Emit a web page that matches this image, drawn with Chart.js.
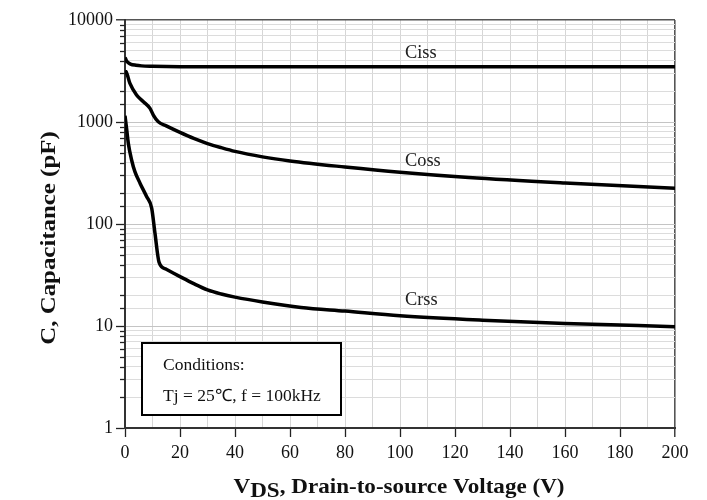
<!DOCTYPE html>
<html>
<head>
<meta charset="utf-8">
<script src="https://cdn.jsdelivr.net/npm/chart.js@4"></script>
<style>
  html, body { margin: 0; padding: 0; background: #fff; }
  canvas { display: block; }
</style>
</head>
<body>
<canvas id="capChart" width="707" height="500"></canvas>
<script>
// Ciss / Coss / Crss vs drain-source voltage (pF, log axis)
var cissV = [0, 0.5, 1, 2, 4, 6, 10, 15, 20, 50, 100, 150, 200];
var cissC = [4300, 4000, 3850, 3700, 3600, 3550, 3520, 3500, 3490, 3480, 3480, 3480, 3480];

var cossV = [0, 0.4, 1.8, 4.2, 6.7, 9.1, 10.3, 12.1, 15, 20, 25, 30, 35, 40, 50, 60, 80, 100, 125, 160, 200];
var cossC = [3150, 3110, 2390, 1840, 1580, 1360, 1170, 1005, 915, 790, 690, 615, 560, 515, 455, 415, 362, 321, 285, 252, 224];

var crssV = [0, 0.5, 1.2, 2.4, 3.6, 5.5, 7.9, 9.7, 10.9, 12.4, 15, 20, 25, 30, 35, 40, 50, 64, 80, 100, 130, 160, 200];
var crssC = [1150, 900, 620, 424, 326, 250, 185, 143, 81, 42, 36, 30.5, 26, 22.6, 20.6, 19.2, 17.2, 15.2, 14, 12.6, 11.4, 10.6, 9.85];

var seriesNames = ['Ciss', 'Coss', 'Crss'];
// where each curve name sits (V, pF at text baseline)
var nameAt = [[101.8, 4240], [101.8, 371], [101.8, 16.1]];

var yTitle = 'C, Capacitance (pF)';
var xTitleMain = 'V';
var xTitleSub = 'DS';
var xTitleRest = ', Drain-to-source Voltage (V)';
var noteLines = ['Conditions:', 'Tj = 25\u2103, f = 100kHz'];

var SERIF = "'Liberation Serif', 'Times New Roman', serif";

function toPoints(xs, ys){
  var pts = [];
  for (var i = 0; i < xs.length; i++) {
    pts.push({x: xs[i], y: ys[i]});
  }
  return pts;
}

function isDecade(v){
  var l = Math.log10(v);
  return Math.abs(l - Math.round(l)) < 1e-9;
}

function curve(name, xs, ys){
  return {
    label: name,
    data: toPoints(xs, ys),
    borderColor: '#000',
    borderWidth: 3.5,
    pointRadius: 0,
    fill: false,
    cubicInterpolationMode: 'monotone'
  };
}

// stretched text helper, the printed sheet uses slightly wide glyphs
function wideText(ctx, txt, x, y, sx){
  ctx.save();
  ctx.translate(x, y);
  ctx.scale(sx, 1);
  ctx.fillText(txt, 0, 0);
  ctx.restore();
}

var decorations = {
  id: 'decorations',
  afterDraw: function(chart){
    var ctx = chart.ctx;
    var area = chart.chartArea;
    var xs = chart.scales.x;
    var ys = chart.scales.y;

    // short minor ticks on the log axis
    ctx.save();
    ctx.strokeStyle = '#222';
    ctx.lineWidth = 1.3;
    ys.ticks.forEach(function(t){
      if (isDecade(t.value)) return;
      var py = Math.round(ys.getPixelForValue(t.value)) + 0.5;
      ctx.beginPath();
      ctx.moveTo(area.left - 5, py);
      ctx.lineTo(area.left, py);
      ctx.stroke();
    });
    ctx.restore();

    // curve names
    ctx.save();
    ctx.fillStyle = '#222';
    ctx.font = '18px ' + SERIF;
    ctx.textBaseline = 'alphabetic';
    ctx.textAlign = 'left';
    for (var i = 0; i < seriesNames.length; i++) {
      wideText(ctx, seriesNames[i], xs.getPixelForValue(nameAt[i][0]), ys.getPixelForValue(nameAt[i][1]), 1.02);
    }
    ctx.restore();

    // conditions box
    var bx = area.left + 17, by = area.bottom - 85, bw = 199, bh = 72;
    ctx.save();
    ctx.fillStyle = '#fff';
    ctx.fillRect(bx, by, bw, bh);
    ctx.strokeStyle = '#000';
    ctx.lineWidth = 2;
    ctx.strokeRect(bx, by, bw, bh);
    ctx.fillStyle = '#111';
    ctx.font = '17px ' + SERIF;
    wideText(ctx, noteLines[0], bx + 21, by + 27, 1.03);
    wideText(ctx, noteLines[1], bx + 21, by + 58, 1.03);
    ctx.restore();

    // axis titles
    ctx.save();
    ctx.fillStyle = '#111';
    ctx.font = 'bold 22px ' + SERIF;
    ctx.textBaseline = 'alphabetic';
    ctx.translate(55, 238);
    ctx.rotate(-Math.PI / 2);
    ctx.scale(1.13, 1);
    ctx.textAlign = 'center';
    ctx.fillText(yTitle, 0, 0);
    ctx.restore();

    ctx.save();
    ctx.fillStyle = '#111';
    ctx.font = 'bold 21px ' + SERIF;
    ctx.textBaseline = 'alphabetic';
    ctx.textAlign = 'left';
    var sx = 1.1;
    var w1 = ctx.measureText(xTitleMain).width;
    var w2 = ctx.measureText(xTitleSub).width;
    var w3 = ctx.measureText(xTitleRest).width;
    var total = (w1 + w2 + w3) * sx;
    var x0 = 399 - total / 2;
    wideText(ctx, xTitleMain, x0, 493, sx);
    wideText(ctx, xTitleSub, x0 + w1 * sx, 497, sx);
    wideText(ctx, xTitleRest, x0 + (w1 + w2) * sx, 493, sx);
    ctx.restore();
  }
};

function drawChart(){
  var ctx = document.getElementById('capChart');
  new Chart(ctx, {
    type: 'line',
    data: {
      datasets: [
        curve(seriesNames[0], cissV, cissC),
        curve(seriesNames[1], cossV, cossC),
        curve(seriesNames[2], crssV, crssC)
      ]
    },
    options: {
      responsive: false,
      devicePixelRatio: 1,
      animation: false,
      layout: { padding: { top: 20, right: 32, left: 0, bottom: 0 } },
      plugins: {
        legend: { display: false },
        tooltip: { enabled: false }
      },
      scales: {
        x: {
          type: 'linear',
          min: 0,
          max: 200,
          afterFit: function(scale){ scale.height = 72; },
          ticks: {
            stepSize: 10,
            autoSkip: false,
            maxRotation: 0,
            padding: 5,
            color: '#111',
            font: { family: SERIF, size: 18 },
            callback: function(v){ return v % 20 === 0 ? String(v) : ''; }
          },
          grid: {
            color: function(c){ return c.tick && c.tick.value === 200 ? '#555' : '#d6d6d6'; },
            lineWidth: function(c){ return c.tick && c.tick.value === 200 ? 1.6 : 1; },
            tickLength: 9,
            tickColor: function(c){ return c.tick && c.tick.value % 20 === 0 ? '#222' : 'rgba(0,0,0,0)'; },
            tickWidth: 1.3
          },
          border: { color: '#333', width: 2 }
        },
        y: {
          type: 'logarithmic',
          min: 1,
          max: 10000,
          afterFit: function(scale){ scale.width = 125; },
          ticks: {
            autoSkip: false,
            padding: 3,
            color: '#111',
            font: { family: SERIF, size: 18 },
            callback: function(v){ return isDecade(v) ? String(v) : ''; }
          },
          grid: {
            color: function(c){
              if (!c.tick) return '#d6d6d6';
              if (c.tick.value === 10000) return '#555';
              return isDecade(c.tick.value) ? '#c4c4c4' : '#dcdcdc';
            },
            lineWidth: function(c){ return c.tick && c.tick.value === 10000 ? 1.6 : 1; },
            tickLength: 9,
            tickColor: function(c){ return c.tick && isDecade(c.tick.value) ? '#222' : 'rgba(0,0,0,0)'; },
            tickWidth: 1.3
          },
          border: { color: '#333', width: 2 }
        }
      }
    },
    plugins: [decorations]
  });
}

drawChart();
</script>
</body>
</html>
